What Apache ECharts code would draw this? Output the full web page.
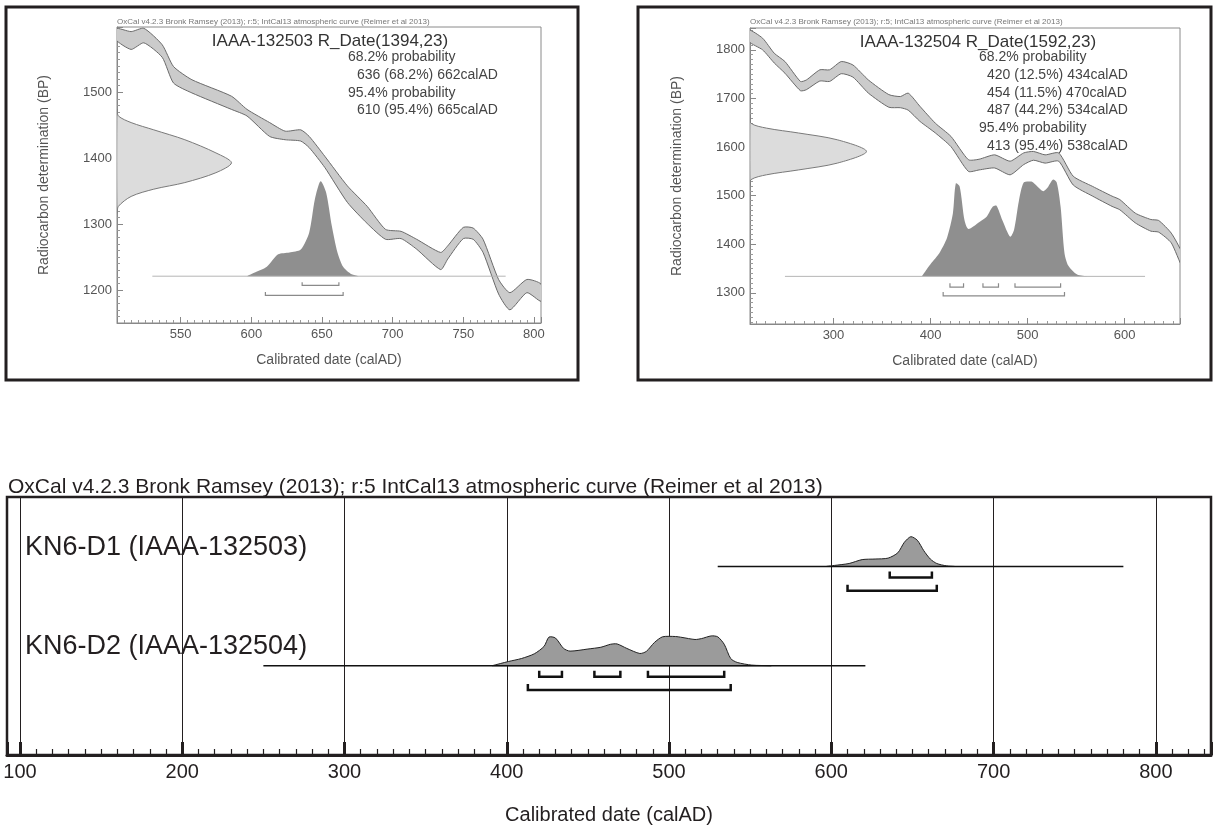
<!DOCTYPE html>
<html>
<head>
<meta charset="utf-8">
<script src="https://cdn.jsdelivr.net/npm/echarts@6/dist/echarts.min.js"></script>
<style>
html, body { margin: 0; padding: 0; background: #fff; }
#main { width: 1213px; height: 839px; }
</style>
</head>
<body>
<div id="main"></div>
<script>
var FONT = "'Liberation Sans', Arial, Helvetica, sans-serif";

// ---- IAAA-132503 (top left) ----
var curveYears1 = [504, 515, 524, 537, 545, 558, 586, 597, 613, 624, 635, 641, 652, 668, 682, 695, 706, 717, 734, 739, 750, 757, 764, 775, 783, 795, 805];
var curveUpper1 = [1597, 1592, 1597, 1572, 1539, 1519, 1494, 1474, 1454, 1441, 1443, 1433, 1403, 1358, 1327, 1292, 1289, 1277, 1257, 1267, 1295, 1294, 1277, 1216, 1196, 1216, 1209];
var curveLower1 = [1580, 1565, 1575, 1553, 1514, 1499, 1474, 1464, 1433, 1428, 1426, 1416, 1386, 1333, 1301, 1277, 1278, 1262, 1231, 1247, 1278, 1277, 1257, 1194, 1170, 1196, 1183];
var rDateBp1 = [1474, 1464, 1454, 1443, 1428, 1408, 1393, 1378, 1363, 1353, 1342, 1327, 1317];
var rDateYear1 = [505, 506, 515, 531, 553, 575, 586, 575, 553, 531, 515, 506, 505];
var calYears1 = [597, 602, 611, 619, 627, 635, 641, 645, 649, 653, 657, 661, 665, 671, 676];
var calDensity1 = [0, 0.035, 0.10, 0.23, 0.25, 0.28, 0.46, 0.81, 1, 0.88, 0.53, 0.25, 0.10, 0.02, 0];
var range68_1 = [[636, 662]];
var range95_1 = [[610, 665]];
var probText1 = ['68.2% probability', '636 (68.2%) 662calAD', '95.4% probability', '610 (95.4%) 665calAD'];

// ---- IAAA-132504 (top right) ----
var curveYears2 = [213, 227, 239, 250, 266, 272, 286, 296, 308, 320, 336, 357, 369, 377, 389, 405, 421, 439, 450, 466, 482, 496, 506, 518, 532, 547, 567, 587, 595, 611, 627, 635, 648, 659];
var curveUpper2 = [1841, 1824, 1793, 1776, 1735, 1738, 1759, 1759, 1776, 1769, 1738, 1708, 1704, 1711, 1684, 1649, 1622, 1574, 1575, 1584, 1571, 1588, 1591, 1584, 1588, 1540, 1519, 1499, 1492, 1464, 1451, 1449, 1423, 1382];
var curveLower2 = [1817, 1800, 1773, 1752, 1716, 1718, 1736, 1735, 1751, 1744, 1711, 1682, 1681, 1676, 1653, 1629, 1601, 1550, 1553, 1557, 1543, 1564, 1573, 1567, 1571, 1522, 1499, 1478, 1471, 1444, 1427, 1425, 1403, 1355];
var rDateBp2 = [1666, 1649, 1639, 1629, 1615, 1591, 1567, 1553, 1543, 1533, 1519];
var rDateYear2 = [214, 215, 231, 264, 304, 334, 304, 264, 231, 215, 214];
var calYears2 = [391, 401, 409, 417, 423, 426, 430, 435, 439, 450, 458, 464, 468, 474, 482, 486, 491, 496, 504, 508, 516, 520, 526, 530, 534, 538, 542, 551, 563];
var calDensity2 = [0, 0.14, 0.24, 0.40, 0.65, 0.96, 0.93, 0.58, 0.49, 0.56, 0.62, 0.72, 0.73, 0.58, 0.41, 0.48, 0.78, 0.97, 0.98, 0.95, 0.88, 0.91, 1, 0.97, 0.72, 0.24, 0.11, 0.02, 0];
var range68_2 = [[420, 434], [454, 470], [487, 534]];
var range95_2 = [[413, 538]];
var probText2 = ['68.2% probability', '420 (12.5%) 434calAD', '454 (11.5%) 470calAD', '487 (44.2%) 534calAD', '95.4% probability', '413 (95.4%) 538calAD'];

// ---- multi plot (bottom) ----
var rowLabels = ['KN6-D1 (IAAA-132503)', 'KN6-D2 (IAAA-132504)'];
var rowSpan = [[530, 780], [250, 621]];

var oxcalSmall = 'OxCal v4.2.3 Bronk Ramsey (2013); r:5; IntCal13 atmospheric curve (Reimer et al 2013)';
var oxcalLine = 'OxCal v4.2.3 Bronk Ramsey (2013); r:5 IntCal13 atmospheric curve (Reimer et al 2013)';

var myChart = echarts.init(document.getElementById('main'));

function clipped(params, children) {
	var c = params.coordSys;
	return {
		type: 'group',
		clipPath: { type: 'rect', shape: { x: c.x, y: c.y, width: c.width, height: c.height } },
		children: children
	};
}

function bandSeries(idx, years, upper, lower) {
	var m = Math.floor(years.length / 2);
	return {
		type: 'custom', xAxisIndex: idx, yAxisIndex: idx, silent: true, z: 3,
		data: [[years[m], (upper[m] + lower[m]) / 2]],
		renderItem: function (params, api) {
			var pts = [];
			for (var i = 0; i < years.length; i++) pts.push(api.coord([years[i], upper[i]]));
			for (var j = years.length - 1; j >= 0; j--) pts.push(api.coord([years[j], lower[j]]));
			return clipped(params, [{
				type: 'polygon', shape: { points: pts, smooth: 0.2 },
				style: { fill: '#cbcbcb', stroke: '#6a6a6a', lineWidth: 1 }
			}]);
		}
	};
}

function rDateSeries(idx, years, bp) {
	var m = Math.floor(years.length / 2);
	return {
		type: 'custom', xAxisIndex: idx, yAxisIndex: idx, silent: true, z: 3,
		data: [[years[m], bp[m]]],
		renderItem: function (params, api) {
			var pts = [];
			for (var i = 0; i < years.length; i++) pts.push(api.coord([years[i], bp[i]]));
			return clipped(params, [{
				type: 'polygon', shape: { points: pts, smooth: 0.3 },
				style: { fill: '#dcdcdc', stroke: '#7a7a7a', lineWidth: 1 }
			}]);
		}
	};
}

// calibrated distribution + baseline + ranges
function calSeries(idx, years, dens, base, peak, span, r68, r95, off68, off95, tick, look) {
	return {
		type: 'custom', xAxisIndex: idx, yAxisIndex: idx, silent: true, z: 4,
		data: [[years[0], base]],
		renderItem: function (params, api) {
			var pts = [api.coord([years[0], base])];
			for (var i = 0; i < years.length; i++) pts.push(api.coord([years[i], base + dens[i] * peak]));
			pts.push(api.coord([years[years.length - 1], base]));
			var a = api.coord([span[0], base]), b = api.coord([span[1], base]);
			var kids = [{
				type: 'polygon', shape: { points: pts, smooth: 0.25 },
				style: { fill: look.fill, stroke: look.outline, lineWidth: look.outlineWidth }
			}, {
				type: 'line', shape: { x1: a[0], y1: a[1], x2: b[0], y2: b[1] },
				style: { stroke: look.base, lineWidth: look.baseWidth }
			}];
			function bracket(r, off) {
				var y = base + off, yt = y + tick;
				kids.push({
					type: 'polyline',
					shape: { points: [api.coord([r[0], yt]), api.coord([r[0], y]), api.coord([r[1], y]), api.coord([r[1], yt])] },
					style: { stroke: look.bracket, lineWidth: look.bracketWidth, fill: null }
				});
			}
			r68.forEach(function (r) { bracket(r, off68); });
			r95.forEach(function (r) { bracket(r, off95); });
			return clipped(params, kids);
		}
	};
}

var topLook = { fill: '#8f8f8f', outline: null, outlineWidth: 0, base: '#b5b5b5', baseWidth: 1, bracket: '#8a8a8a', bracketWidth: 1.2 };
var botLook = { fill: '#9b9b9b', outline: '#222', outlineWidth: 1, base: '#111', baseWidth: 1.5, bracket: '#111', bracketWidth: 2.5 };

function plain(v) { return String(v); }

function topAxis(idx, min, max, split, name, gap) {
	return {
		gridIndex: idx, type: 'value', min: min, max: max, splitNumber: split,
		name: name, nameLocation: 'middle', nameGap: gap,
		nameTextStyle: { fontFamily: FONT, fontSize: 14, color: '#555' },
		axisLine: { lineStyle: { color: '#888', width: 1 } },
		axisTick: { inside: true, length: 6, lineStyle: { color: '#888' } },
		minorTick: { show: true, splitNumber: 10, length: 3, lineStyle: { color: '#999' } },
		axisLabel: { fontFamily: FONT, fontSize: 13, color: '#555', margin: 5, showMinLabel: false, showMaxLabel: false, formatter: plain },
		splitLine: { show: false }
	};
}

function textEl(x, y, text, size, color, align) {
	return {
		type: 'text', x: x, y: y, silent: true,
		style: { text: text, font: size + 'px ' + FONT, fill: color, align: align || 'left', verticalAlign: 'middle', textAlign: align || 'left', textVerticalAlign: 'middle' }
	};
}

var graphics = [
	{ type: 'rect', shape: { x: 6, y: 7, width: 572, height: 373 }, style: { fill: 'none', stroke: '#231f20', lineWidth: 3 }, silent: true },
	{ type: 'rect', shape: { x: 638, y: 7, width: 573, height: 373 }, style: { fill: 'none', stroke: '#231f20', lineWidth: 3 }, silent: true },
	textEl(117, 22, oxcalSmall, 8, '#777'),
	textEl(750, 22, oxcalSmall, 8, '#777'),
	textEl(330, 41, 'IAAA-132503 R_Date(1394,23)', 17, '#333', 'center'),
	textEl(978, 42, 'IAAA-132504 R_Date(1592,23)', 17, '#333', 'center'),
	textEl(8, 487, oxcalLine, 21, '#231f20')
];
var ly1 = [57, 75, 93, 110];
probText1.forEach(function (t, i) {
	graphics.push(textEl(t.indexOf('probability') >= 0 ? 348 : 357, ly1[i], t, 14, '#444'));
});
var ly2 = [57, 75, 93, 110, 128, 146];
probText2.forEach(function (t, i) {
	graphics.push(textEl(t.indexOf('probability') >= 0 ? 979 : 987, ly2[i], t, 14, '#444'));
});

// bottom rows: base value per row on the hidden y axis
var rowBase = [1.9, 0.9];
var rowSeries = [];
var rowData = [
	{ years: calYears1, dens: calDensity1, r68: range68_1, r95: range95_1 },
	{ years: calYears2, dens: calDensity2, r68: range68_2, r95: range95_2 }
];
rowData.forEach(function (d, i) {
	rowSeries.push(calSeries(2, d.years, d.dens, rowBase[i], 0.3, rowSpan[i], d.r68, d.r95, -0.112, -0.245, 0.06, botLook));
});
rowSeries.push({
	type: 'custom', xAxisIndex: 2, yAxisIndex: 2, silent: true, z: 5,
	data: rowLabels.map(function (l, i) { return [100, rowBase[i]]; }),
	renderItem: function (params, api) {
		var p = api.coord([api.value(0), api.value(1)]);
		var left = params.coordSys.x;
		return {
			type: 'text', x: left + 18, y: p[1] - 19,
			style: { text: rowLabels[params.dataIndex], font: '27px ' + FONT, fill: '#231f20', align: 'left', verticalAlign: 'middle', textAlign: 'left', textVerticalAlign: 'middle' }
		};
	}
});

var option = {
	animation: false,
	backgroundColor: '#fff',
	grid: [
		{ left: 117, top: 27, width: 424, height: 296, show: true, borderColor: '#8a8a8a', borderWidth: 1 },
		{ left: 750, top: 28, width: 430, height: 296, show: true, borderColor: '#8a8a8a', borderWidth: 1 },
		{ left: 7, top: 497, width: 1204, height: 258, show: true, borderColor: '#231f20', borderWidth: 2.5 }
	],
	xAxis: [
		topAxis(0, 505, 805, 6, 'Calibrated date (calAD)', 30),
		topAxis(1, 214, 657, 4, 'Calibrated date (calAD)', 30),
		{
			gridIndex: 2, type: 'value', min: 92, max: 834, splitNumber: 7,
			name: 'Calibrated date (calAD)', nameLocation: 'middle', nameGap: 50,
			nameTextStyle: { fontFamily: FONT, fontSize: 20, color: '#231f20' },
			axisLine: { lineStyle: { color: '#231f20', width: 3 } },
			axisTick: { inside: true, length: 13, lineStyle: { color: '#231f20', width: 3 } },
			minorTick: { show: true, splitNumber: 10, length: 6, lineStyle: { color: '#231f20', width: 1.2 } },
			axisLabel: { fontFamily: FONT, fontSize: 20, color: '#231f20', margin: 7, showMinLabel: false, showMaxLabel: false, formatter: plain },
			splitLine: { show: true, lineStyle: { color: '#231f20', width: 1 } }
		}
	],
	yAxis: [
		topAxis(0, 1150, 1599, 4, 'Radiocarbon determination (BP)', 66),
		topAxis(1, 1236, 1845, 6, 'Radiocarbon determination (BP)', 66),
		{ gridIndex: 2, type: 'value', min: 0, max: 2.6, show: false, splitLine: { show: false } }
	],
	graphic: graphics,
	series: [
		bandSeries(0, curveYears1, curveUpper1, curveLower1),
		rDateSeries(0, rDateYear1, rDateBp1),
		calSeries(0, calYears1, calDensity1, 1221, 144, [530, 780], range68_1, range95_1, -14, -29, 5, topLook),
		bandSeries(1, curveYears2, curveUpper2, curveLower2),
		rDateSeries(1, rDateYear2, rDateBp2),
		calSeries(1, calYears2, calDensity2, 1334, 199, [250, 621], range68_2, range95_2, -22, -40, 8, topLook)
	].concat(rowSeries)
};
myChart.setOption(option);
</script>
</body>
</html>
